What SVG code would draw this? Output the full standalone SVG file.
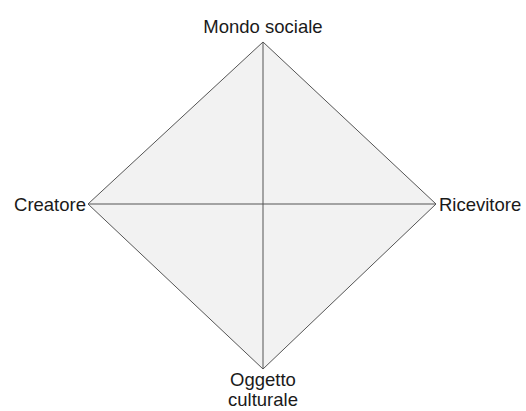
<svg xmlns="http://www.w3.org/2000/svg" width="526" height="411" viewBox="0 0 526 411">
<style>
.lbl{font-family:"Liberation Sans",Arial,sans-serif;font-size:18.5px;fill:#1a1a1a}
.ln{stroke:#555;stroke-width:1;fill:none}
</style>
<rect width="526" height="411" fill="#fff"/>
<g id="diamond">
<polygon points="263,42 436,204 263,369 88,204" fill="#f2f2f2" stroke="#555" stroke-width="1"/>
</g>
<g id="connectors">
<line class="ln" x1="263" y1="42" x2="263" y2="369"/>
<line class="ln" x1="88" y1="204" x2="436" y2="204"/>
</g>
<g id="mondo"><text class="lbl" x="263" y="33" text-anchor="middle">Mondo sociale</text></g>
<g id="creatore"><text class="lbl" x="86" y="211" text-anchor="end">Creatore</text></g>
<g id="ricevitore"><text class="lbl" x="439" y="211">Ricevitore</text></g>
<g id="oggetto"><text class="lbl" x="263" y="386" text-anchor="middle">Oggetto</text><text class="lbl" x="263" y="406" text-anchor="middle">culturale</text></g>
</svg>
